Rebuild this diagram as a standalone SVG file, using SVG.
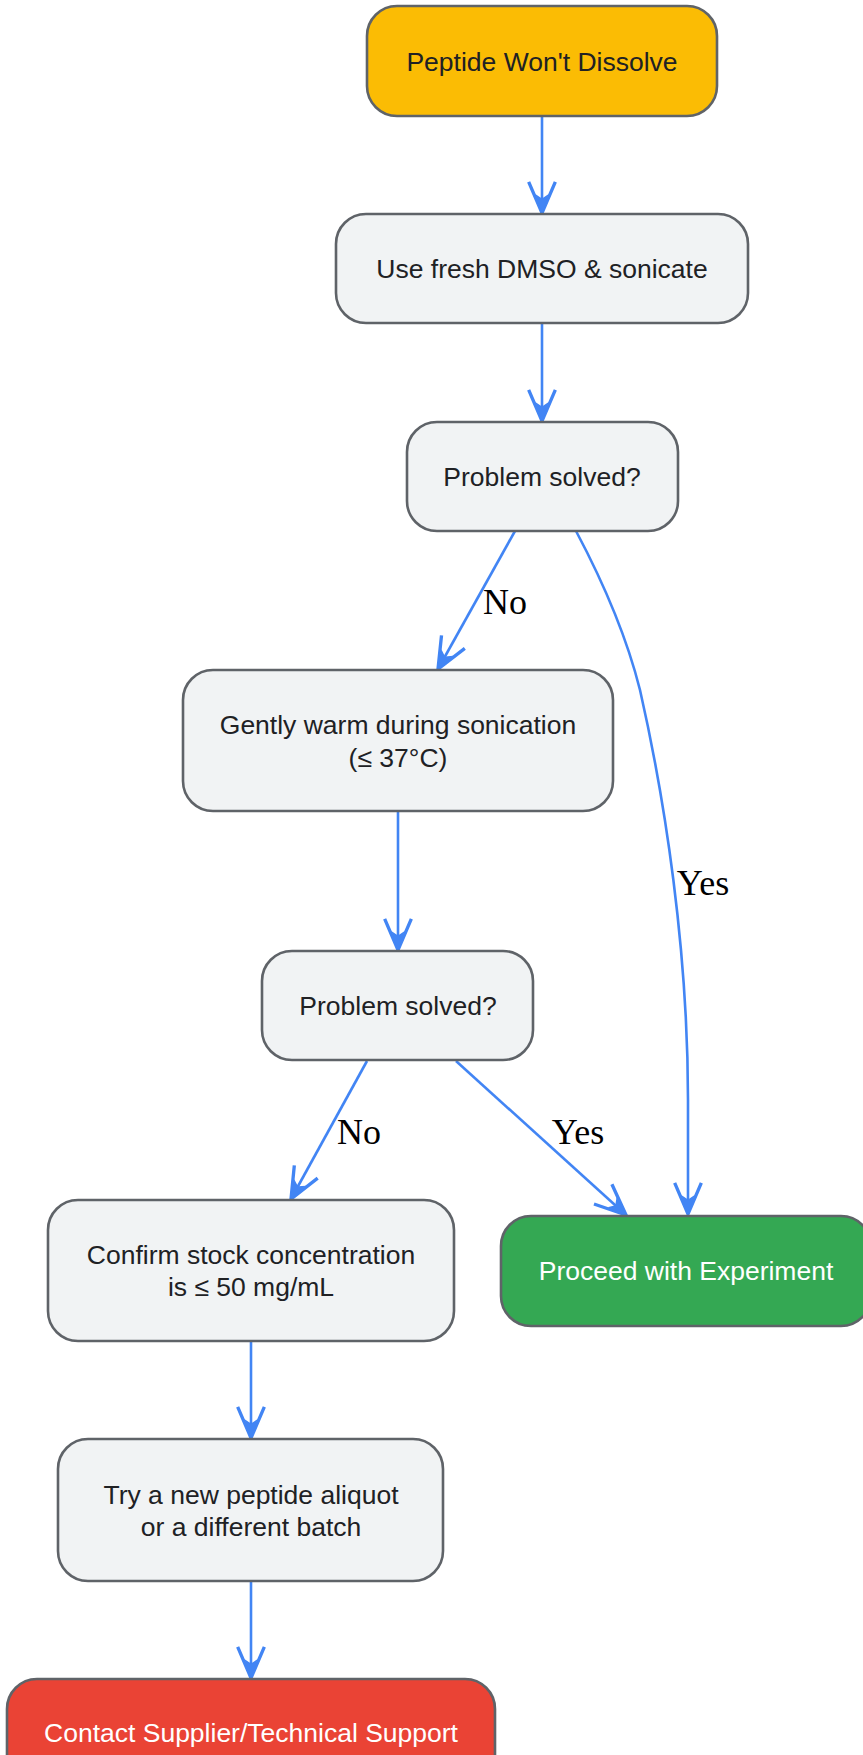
<svg xmlns="http://www.w3.org/2000/svg" width="863" height="1755" viewBox="0 0 863 1755">
<style>
.node rect{stroke:#5F6368;stroke-width:2.6}
.proc rect{fill:#F1F3F4}
.t{font-family:"Liberation Sans",Arial,sans-serif;font-size:26.5px;text-anchor:middle;dominant-baseline:central;fill:#202124}
.w{fill:#FFFFFF}
.edge{fill:none;stroke:#4285F4;stroke-width:2.6;marker-end:url(#arr)}
.lbl{font-family:"Liberation Serif","Times New Roman",serif;font-size:36px;text-anchor:middle;dominant-baseline:central;fill:#000000}
</style>
<defs>
<marker id="arr" markerUnits="userSpaceOnUse" markerWidth="40" markerHeight="40" viewBox="-32 -18 36 36" refX="0" refY="0" orient="auto" overflow="visible">
<path d="M-28,-12 L0,0 L-28,12" fill="none" stroke="#4285F4" stroke-width="3"/>
<path d="M1,0 L-17,-6 L-13,0 L-17,6 z" fill="#4285F4"/>
</marker>
</defs>
<rect width="863" height="1755" fill="#FFFFFF"/>
<g id="connectors">
<path class="edge" d="M542,116 L542,213"/>
<path class="edge" d="M542,323 L542,421"/>
<path class="edge" d="M515,531 L438,669"/>
<path class="edge" d="M576,531 C610,595 630,650 640,690 C665,800 688,950 688,1100 L688,1214"/>
<path class="edge" d="M398,811 L398,950"/>
<path class="edge" d="M367,1061 L291,1199"/>
<path class="edge" d="M456,1061 L626,1215"/>
<path class="edge" d="M251,1341 L251,1438"/>
<path class="edge" d="M251,1581 L251,1678"/>
<text class="lbl" x="505" y="602">No</text>
<text class="lbl" x="703" y="883">Yes</text>
<text class="lbl" x="359" y="1132">No</text>
<text class="lbl" x="578" y="1132">Yes</text>
</g>
<g id="start" class="node"><rect x="367" y="6" width="350" height="110" rx="30" fill="#FBBC04"/><text class="t" x="542" y="62">Peptide Won't Dissolve</text></g>
<g id="dmso" class="node proc"><rect x="336" y="214" width="412" height="109" rx="30"/><text class="t" x="542" y="269">Use fresh DMSO &amp; sonicate</text></g>
<g id="q1" class="node proc"><rect x="407" y="422" width="271" height="109" rx="30"/><text class="t" x="542" y="477">Problem solved?</text></g>
<g id="warm" class="node proc"><rect x="183" y="670" width="430" height="141" rx="30"/><text class="t" x="398" y="725">Gently warm during sonication</text><text class="t" x="398" y="758">(≤ 37°C)</text></g>
<g id="q2" class="node proc"><rect x="262" y="951" width="271" height="109" rx="30"/><text class="t" x="398" y="1006">Problem solved?</text></g>
<g id="confirm" class="node proc"><rect x="48" y="1200" width="406" height="141" rx="30"/><text class="t" x="251" y="1255">Confirm stock concentration</text><text class="t" x="251" y="1287">is ≤ 50 mg/mL</text></g>
<g id="proceed" class="node"><rect x="501" y="1216" width="370" height="110" rx="30" fill="#34A853"/><text class="t w" x="686" y="1271">Proceed with Experiment</text></g>
<g id="retry" class="node proc"><rect x="58" y="1439" width="385" height="142" rx="30"/><text class="t" x="251" y="1495">Try a new peptide aliquot</text><text class="t" x="251" y="1527">or a different batch</text></g>
<g id="contact" class="node"><rect x="7" y="1679" width="488" height="110" rx="30" fill="#EA4335"/><text class="t w" x="251" y="1733">Contact Supplier/Technical Support</text></g>
</svg>
